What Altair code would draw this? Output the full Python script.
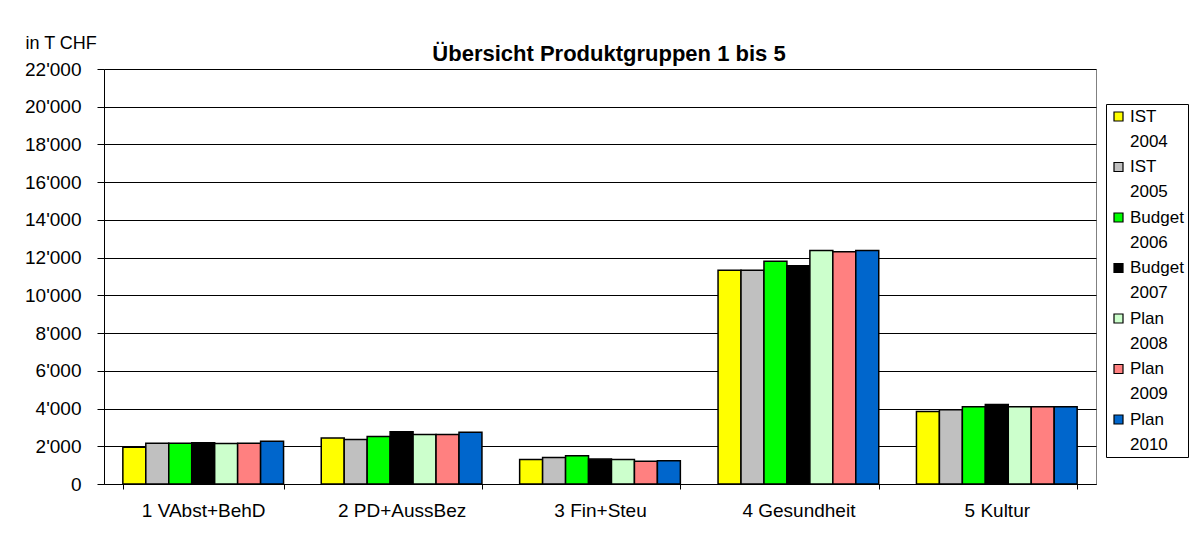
import altair as alt
import pandas as pd

groups = ["1 VAbst+BehD", "2 PD+AussBez", "3 Fin+Steu", "4 Gesundheit", "5 Kultur"]
series = ["IST 2004", "IST 2005", "Budget 2006", "Budget 2007", "Plan 2008", "Plan 2009", "Plan 2010"]
colors = ["#FFFF00", "#C0C0C0", "#00FF00", "#000000", "#CCFFCC", "#FF8080", "#0066CC"]

values = {
    "IST 2004":    [1950, 2440, 1300, 11330, 3840],
    "IST 2005":    [2160, 2360, 1410, 11330, 3940],
    "Budget 2006": [2160, 2520, 1500, 11810, 4100],
    "Budget 2007": [2190, 2770, 1320, 11570, 4220],
    "Plan 2008":   [2150, 2630, 1300, 12380, 4100],
    "Plan 2009":   [2160, 2630, 1210, 12310, 4100],
    "Plan 2010":   [2270, 2740, 1230, 12380, 4100],
}
y_ticks = list(range(0, 22001, 2000))

rows = []
for s in series:
    for g, v in zip(groups, values[s]):
        rows.append({"Gruppe": g, "Serie": s, "Wert": v})
df = pd.DataFrame(rows)

FONT = "Liberation Sans"

chart = alt.Chart(df).mark_bar(stroke="black", strokeWidth=1.5).encode(
    x=alt.X("Gruppe:N", sort=groups,
            scale=alt.Scale(paddingInner=0.19, paddingOuter=0.095),
            axis=alt.Axis(title=None, labelAngle=0, tickBand="extent", tickSize=5,
                          labelPadding=12, labelFontSize=19, labelColor="black",
                          domainColor="black", tickColor="black", labelFont=FONT)),
    xOffset=alt.XOffset("Serie:N", sort=series),
    y=alt.Y("Wert:Q", scale=alt.Scale(domain=[0, 22000], nice=False),
            axis=alt.Axis(values=y_ticks, title="in T CHF", titleAngle=0,
                          titleX=-79, titleY=-21, titleAlign="left", titleBaseline="alphabetic",
                          titleFontWeight="normal", titleFontSize=18, titleFont=FONT,
                          titleColor="black",
                          labelExpr="replace(format(datum.value, ','), ',', \"'\")",
                          labelFontSize=19, labelFont=FONT, labelColor="black",
                          labelPadding=16, tickSize=7, tickColor="black", domainColor="black",
                          grid=True, gridColor="black", gridWidth=1)),
    color=alt.Color("Serie:N", sort=series,
                    scale=alt.Scale(domain=series, range=colors),
                    legend=alt.Legend(title=None, orient="none", legendX=1002, legendY=35,
                                      symbolType="square", symbolSize=81,
                                      symbolStrokeColor="black", symbolStrokeWidth=1.2,
                                      labelExpr="split(datum.label, ' ')",
                                      labelFontSize=17, labelFont=FONT,
                                      labelColor="black", strokeColor="black",
                                      padding=4, rowPadding=7.5, symbolOffset=0,
                                      labelOffset=3)),
).properties(
    width=992, height=415,
    title=alt.TitleParams("Übersicht Produktgruppen 1 bis 5", fontSize=22, fontWeight="bold",
                          font=FONT, color="black", anchor="middle",
                          frame="group", offset=0, dx=9, dy=32),
    autosize=alt.AutoSizeParams(type="none"),
    padding={"left": 96, "top": 61, "right": 95, "bottom": 46},
).configure(
    style={"guide-label": {"lineHeight": 25}}
).configure_view(stroke="#808080", strokeWidth=1)

chart.save("out.html", embed_options={"renderer": "svg", "actions": False})
